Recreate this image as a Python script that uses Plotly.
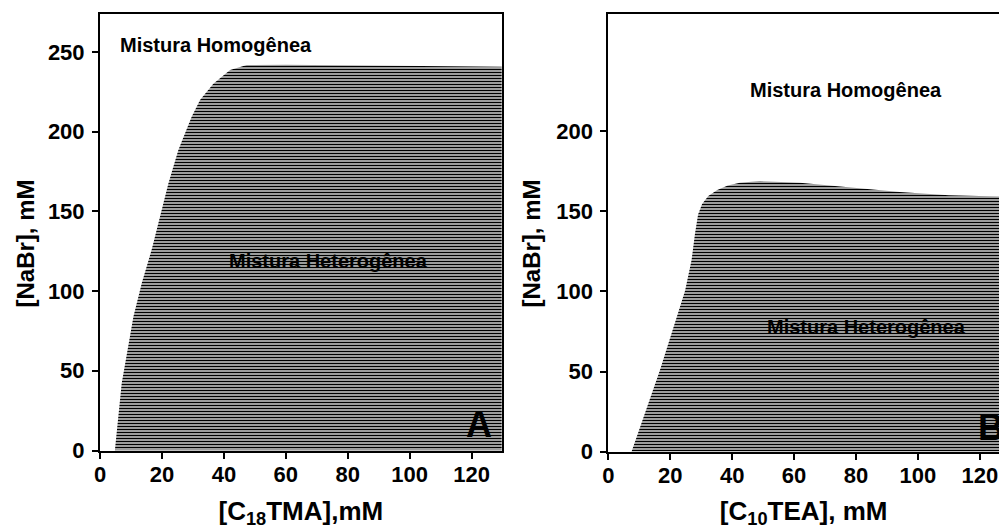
import plotly.graph_objects as go

# ---- data ----
# Panel A: boundary of the heterogeneous region, [C18TMA] (mM) vs [NaBr] (mM)
a_x = [4.8, 7.0, 10.8, 13.5, 16.7, 19.4, 22.1, 25.3, 29.6, 32.3, 36.6, 42.0, 47.4, 60.0, 90.0, 130.0]
a_y = [0.0, 42.0, 84.0, 105.0, 126.0, 146.6, 167.5, 188.4, 209.3, 219.7, 230.0, 238.6, 241.7, 241.8, 241.2, 240.6]
# Panel B: boundary, [C10TEA] (mM) vs [NaBr] (mM)
b_x = [7.5, 16.7, 24.8, 26.9, 28.0, 29.0, 30.3, 32.3, 35.2, 38.6, 42.5, 49.0, 61.9, 78.0, 94.2, 110.0, 130.0]
b_y = [0.0, 51.0, 100.4, 119.5, 136.0, 148.0, 154.5, 159.5, 163.2, 166.0, 167.8, 168.8, 167.8, 165.0, 162.0, 160.0, 159.0]

a_ticks_y = [0, 50, 100, 150, 200, 250]
b_ticks_y = [0, 50, 100, 150, 200]
ticks_x = [0, 20, 40, 60, 80, 100, 120]

FONT = "Liberation Sans, Arial, sans-serif"

W, H = 999, 529


def fx(p):
    return p / W


def fy(p):
    return (H - p) / H


fig = go.Figure()

pattern = dict(shape="-", fgcolor="#000000", bgcolor="#c4c4c4", size=3, solidity=0.47)

fig.add_trace(go.Scatter(
    x=[a_x[0]] + a_x + [a_x[-1]], y=[0] + a_y + [0],
    mode="lines", line=dict(width=0, color="#333333"),
    fill="toself", fillcolor="#666666", fillpattern=pattern,
    xaxis="x", yaxis="y", showlegend=False, hoverinfo="skip"))
fig.add_trace(go.Scatter(
    x=[b_x[0]] + b_x + [b_x[-1]], y=[0] + b_y + [0],
    mode="lines", line=dict(width=0, color="#333333"),
    fill="toself", fillcolor="#666666", fillpattern=pattern,
    xaxis="x2", yaxis="y2", showlegend=False, hoverinfo="skip"))

common_axis = dict(showline=True, linecolor="black", linewidth=2,
                   ticks="outside", ticklen=6, tickwidth=2, tickcolor="black",
                   showgrid=False, zeroline=False, automargin=False,
                   tickfont=dict(family=FONT, size=22, color="black", weight="bold"))

xtitle_font = dict(family=FONT, size=26, color="black", weight="bold")
ytitle_font = dict(family=FONT, size=24, color="black", weight="bold")

fig.update_layout(
    template="none",
    width=W, height=H,
    margin=dict(l=0, r=0, t=0, b=0),
    paper_bgcolor="white", plot_bgcolor="white",
    xaxis=dict(domain=[fx(100), fx(501.7)], range=[0, 129.7], tickvals=ticks_x,
               mirror=True, anchor="y", ticklabelstandoff=-3,
               title=dict(text="[C<sub>18</sub>TMA],mM", standoff=17, font=xtitle_font),
               **common_axis),
    yaxis=dict(domain=[fy(450.5), fy(14)], range=[0, 273.7], tickvals=a_ticks_y,
               mirror=True, anchor="x", ticklabelstandoff=3,
               **common_axis),
    xaxis2=dict(domain=[fx(608.3), 1.0], range=[0, 126.2], tickvals=ticks_x,
                mirror=True, anchor="y2", ticklabelstandoff=-3,
                title=dict(text="[C<sub>10</sub>TEA], mM", standoff=17, font=xtitle_font),
                **common_axis),
    yaxis2=dict(domain=[fy(451.7), fy(14)], range=[0, 273.0], tickvals=b_ticks_y,
                mirror=False, anchor="x2", ticklabelstandoff=3,
                **common_axis),
)

# y-axis titles (placed slightly below the axis centre, as in the original)
for xp in (25, 531):
    fig.add_annotation(x=fx(xp), y=fy(243.5), xref="paper", yref="paper", text="[NaBr], mM",
                       textangle=-90, showarrow=False, font=ytitle_font,
                       xanchor="center", yanchor="middle")

ann_font = dict(family=FONT, size=20, color="black", weight="bold")
fig.add_annotation(x=37.6, y=254.2, xref="x", yref="y", text="Mistura Homogênea",
                   showarrow=False, font=ann_font, xanchor="center", yanchor="middle")
fig.add_annotation(x=73.8, y=118.8, xref="x", yref="y", text="Mistura Heterogênea",
                   showarrow=False, font=ann_font, xanchor="center", yanchor="middle")
fig.add_annotation(x=76.9, y=225.6, xref="x2", yref="y2", text="Mistura Homogênea",
                   showarrow=False, font=ann_font, xanchor="center", yanchor="middle")
fig.add_annotation(x=83.4, y=78.0, xref="x2", yref="y2", text="Mistura Heterogênea",
                   showarrow=False, font=ann_font, xanchor="center", yanchor="middle")
label_font = dict(family=FONT, size=36, color="black", weight="bold")
fig.add_annotation(x=122.4, y=16.6, xref="x", yref="y", text="A",
                   showarrow=False, font=label_font, xanchor="center", yanchor="middle")
fig.add_annotation(x=123.6, y=15.4, xref="x2", yref="y2", text="B",
                   showarrow=False, font=label_font, xanchor="center", yanchor="middle")

fig.write_html("out.html",
               config={"displayModeBar": False},
               post_script="document.body.style.margin='0px';"
                           "document.body.style.overflow='hidden';")
